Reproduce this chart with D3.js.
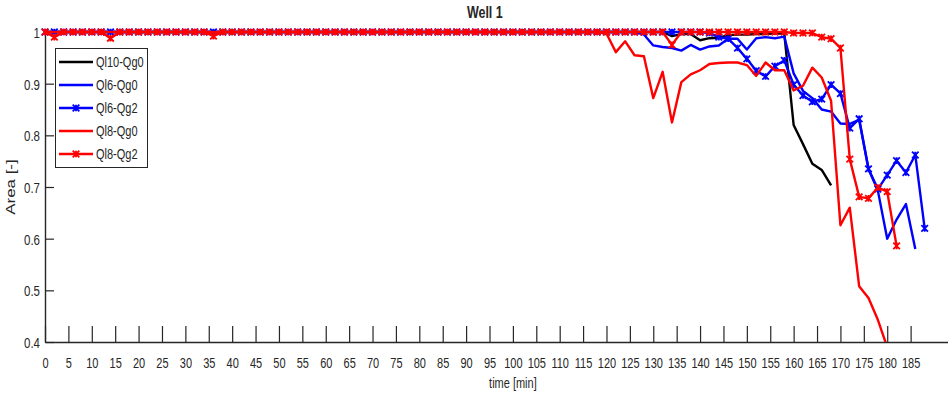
<!DOCTYPE html>
<html>
<head>
<meta charset="utf-8">
<script src="https://cdn.jsdelivr.net/npm/d3@7"></script>
<style>
  html, body { margin: 0; padding: 0; background: #fff; }
  svg { display: block; }
  text { font-family: "Liberation Sans", Arial, sans-serif; fill: #262626; }
</style>
</head>
<body>
<svg id="chart" width="948" height="400"></svg>
<script>
// sample times [min]
const time = [
  0, 2, 4, 6, 8, 10, 12, 14, 16, 18,
  20, 22, 24, 26, 28, 30, 32, 34, 36, 38,
  40, 42, 44, 46, 48, 50, 52, 54, 56, 58,
  60, 62, 64, 66, 68, 70, 72, 74, 76, 78,
  80, 82, 84, 86, 88, 90, 92, 94, 96, 98,
  100, 102, 104, 106, 108, 110, 112, 114, 116, 118,
  120, 122, 124, 126, 128, 130, 132, 134, 136, 138,
  140, 142, 144, 146, 148, 150, 152, 154, 156, 158,
  160, 162, 164, 166, 168, 170, 172, 174, 176, 178,
  180, 182, 184, 186, 188
];

// area fraction for each run, one value per sample time
const ql10qg0 = [
  1, 1, 1, 1, 1, 1, 1, 1, 1, 1,
  1, 1, 1, 1, 1, 1, 1, 1, 1, 1,
  1, 1, 1, 1, 1, 1, 1, 1, 1, 1,
  1, 1, 1, 1, 1, 1, 1, 1, 1, 1,
  1, 1, 1, 1, 1, 1, 1, 1, 1, 1,
  1, 1, 1, 1, 1, 1, 1, 1, 1, 1,
  1, 1, 1, 1, 1, 1, 1, 0.992, 0.996, 0.996,
  0.984, 0.988, 0.989, 0.994, 0.995, 0.995, 0.996, 0.996, 0.997, 0.997,
  0.82, 0.783, 0.745, 0.733, 0.703
];
const ql6qg0 = [
  1, 1, 1, 1, 1, 1, 1, 1, 1, 1,
  1, 1, 1, 1, 1, 1, 1, 1, 1, 1,
  1, 1, 1, 1, 1, 1, 1, 1, 1, 1,
  1, 1, 1, 1, 1, 1, 1, 1, 1, 1,
  1, 1, 1, 1, 1, 1, 1, 1, 1, 1,
  1, 1, 1, 1, 1, 1, 1, 1, 1, 1,
  1, 1, 1, 1, 0.995, 0.974, 0.971, 0.969, 0.964, 0.975,
  0.966, 0.972, 0.974, 0.987, 0.987, 0.966, 0.988, 0.99, 0.988, 0.991,
  0.92, 0.886, 0.872, 0.85, 0.846, 0.823, 0.822, 0.83, 0.735, 0.693,
  0.6, 0.637, 0.667, 0.58
];
const ql6qg2 = [
  1, 1, 1, 1, 1, 1, 1, 1, 1, 1,
  1, 1, 1, 1, 1, 1, 1, 1, 1, 1,
  1, 1, 1, 1, 1, 1, 1, 1, 1, 1,
  1, 1, 1, 1, 1, 1, 1, 1, 1, 1,
  1, 1, 1, 1, 1, 1, 1, 1, 1, 1,
  1, 1, 1, 1, 1, 1, 1, 1, 1, 1,
  1, 1, 1, 1, 1, 1, 1, 1, 1, 1,
  1, 0.998, 0.99, 0.987, 0.969, 0.948, 0.925, 0.914, 0.934, 0.945,
  0.898, 0.877, 0.865, 0.87, 0.898, 0.881, 0.814, 0.832, 0.735, 0.696,
  0.723, 0.751, 0.728, 0.762, 0.62
];
const ql8qg0 = [
  1, 1, 1, 1, 1, 1, 1, 1, 1, 1,
  1, 1, 1, 1, 1, 1, 1, 1, 1, 1,
  1, 1, 1, 1, 1, 1, 1, 1, 1, 1,
  1, 1, 1, 1, 1, 1, 1, 1, 1, 1,
  1, 1, 1, 1, 1, 1, 1, 1, 1, 1,
  1, 1, 1, 1, 1, 1, 1, 1, 1, 1,
  0.997, 0.961, 0.982, 0.955, 0.953, 0.872, 0.923, 0.825, 0.903, 0.918,
  0.926, 0.938, 0.94, 0.941, 0.941, 0.936, 0.915, 0.941, 0.926, 0.926,
  0.887, 0.896, 0.931, 0.912, 0.867, 0.626, 0.66, 0.508, 0.485, 0.443,
  0.39
];
const ql8qg2 = [
  1, 0.99, 1, 1, 1, 1, 1, 0.988, 1, 1,
  1, 1, 1, 1, 1, 1, 1, 1, 0.992, 1,
  1, 1, 1, 1, 1, 1, 1, 1, 1, 1,
  1, 1, 1, 1, 1, 1, 1, 1, 1, 1,
  1, 1, 1, 1, 1, 1, 1, 1, 1, 1,
  1, 1, 1, 1, 1, 1, 1, 1, 1, 1,
  1, 1, 1, 1, 1, 1, 1, 0.975, 1, 1,
  1, 1, 1, 1, 1, 1, 1, 1, 1, 1,
  0.998, 0.998, 0.998, 0.99, 0.987, 0.969, 0.754, 0.681, 0.678, 0.699,
  0.691, 0.586
];

const seriesNames = ["Ql10-Qg0", "Ql6-Qg0", "Ql6-Qg2", "Ql8-Qg0", "Ql8-Qg2"];
const seriesValues = [ql10qg0, ql6qg0, ql6qg2, ql8qg0, ql8qg2];
const seriesColors = ["#000000", "#0000ff", "#0000ff", "#ff0000", "#ff0000"];
const seriesMarked = [false, false, true, false, true];

const xTicks = d3.range(0, 186, 5);
const yTicks = [0.4, 0.5, 0.6, 0.7, 0.8, 0.9, 1];

const titleText = "Well 1";
const xLabelText = "time [min]";
const yLabelText = "Area [-]";

// layout
const plotLeft = 45, plotTop = 32, plotBottom = 342;
const pxPerMin = 4.679;
const svg = d3.select("#chart");
const W = +svg.attr("width");

const x = d3.scaleLinear().domain([0, 200]).range([plotLeft, plotLeft + 200 * pxPerMin]);
const y = d3.scaleLinear().domain([0.4, 1]).range([plotBottom, plotTop]);

// text is drawn taller than wide, like the original figure
const STRETCH = 1.35;

svg.append("defs").append("clipPath").attr("id", "plotclip")
  .append("rect").attr("x", plotLeft).attr("y", 0).attr("width", W - plotLeft).attr("height", plotBottom);

// axes
const gx = svg.append("g").attr("transform", `translate(0,${plotBottom})`)
  .call(d3.axisBottom(x).tickValues(xTicks).tickFormat(d3.format("d"))
    .tickSizeInner(-16).tickSizeOuter(0));
gx.select(".domain").attr("stroke", "#262626").attr("stroke-width", 1.4);
gx.selectAll(".tick line").attr("stroke", "#262626").attr("stroke-width", 1.2);
gx.selectAll(".tick text")
  .attr("y", null).attr("dy", null)
  .attr("font-size", 11).attr("text-anchor", "middle")
  .attr("transform", `translate(0,26) scale(1,${STRETCH})`);

const gy = svg.append("g").attr("transform", `translate(${plotLeft},0)`)
  .call(d3.axisLeft(y).tickValues(yTicks).tickFormat(d => d === 1 ? "1" : d3.format(".1f")(d))
    .tickSizeInner(-9).tickSizeOuter(0));
gy.select(".domain").attr("stroke", "#262626").attr("stroke-width", 1.4);
gy.selectAll(".tick line").attr("stroke", "#262626").attr("stroke-width", 1.2);
gy.selectAll(".tick text")
  .attr("x", null).attr("dy", null)
  .attr("font-size", 11.5).attr("text-anchor", "end")
  .attr("transform", `translate(-5,5.5) scale(1,${STRETCH})`);
gy.selectAll("text").attr("fill", "#262626");
gx.selectAll("text").attr("fill", "#262626");

// series lines
const line = d3.line().x(d => x(d[0])).y(d => y(d[1]));
const plot = svg.append("g");

function markerPath(cx, cy, r) {
  return `M${cx - r},${cy - r}L${cx + r},${cy + r}M${cx - r},${cy + r}L${cx + r},${cy - r}M${cx},${cy - r}L${cx},${cy + r}`;
}

seriesValues.forEach((vals, i) => {
  const pts = vals.map((v, k) => [time[k], v]);
  plot.append("path")
    .attr("clip-path", "url(#plotclip)")
    .attr("d", line(pts))
    .attr("fill", "none")
    .attr("stroke", seriesColors[i])
    .attr("stroke-width", 2.4)
    .attr("stroke-linejoin", "round");
  if (seriesMarked[i]) {
    plot.append("g").selectAll("path")
      .data(pts.filter(p => p[1] >= 0.4))
      .join("path")
      .attr("d", p => markerPath(x(p[0]), y(p[1]), 3.3))
      .attr("fill", "none")
      .attr("stroke", seriesColors[i])
      .attr("stroke-width", 1.8);
  }
});

// title and axis labels
svg.append("text")
  .attr("text-anchor", "middle").attr("font-size", 12.5).attr("font-weight", "bold")
  .attr("fill", "#000")
  .attr("transform", `translate(${x(94)},18) scale(1,${STRETCH})`)
  .text(titleText);

svg.append("text")
  .attr("text-anchor", "middle").attr("font-size", 11)
  .attr("transform", `translate(${x(100)},388) scale(1,${STRETCH})`)
  .text(xLabelText);

svg.append("text")
  .attr("text-anchor", "middle").attr("font-size", 12.5)
  .attr("transform", `translate(15,${(plotTop + plotBottom) / 2}) rotate(-90) scale(${STRETCH},1)`)
  .text(yLabelText);

// legend
const lg = svg.append("g");
lg.append("rect")
  .attr("x", 55.5).attr("y", 48.5).attr("width", 92).attr("height", 119)
  .attr("fill", "#fff").attr("stroke", "#262626").attr("stroke-width", 1);
seriesNames.forEach((name, i) => {
  const cy = 62 + i * 23;
  lg.append("line")
    .attr("x1", 59).attr("x2", 93).attr("y1", cy).attr("y2", cy)
    .attr("stroke", seriesColors[i]).attr("stroke-width", 2.4);
  if (seriesMarked[i]) {
    lg.append("path").attr("d", markerPath(76, cy, 3.3))
      .attr("fill", "none").attr("stroke", seriesColors[i]).attr("stroke-width", 1.8);
  }
  lg.append("text")
    .attr("font-size", 11).attr("fill", "#000")
    .attr("transform", `translate(96,${cy + 5}) scale(1,${STRETCH})`)
    .text(name);
});
</script>
</body>
</html>
